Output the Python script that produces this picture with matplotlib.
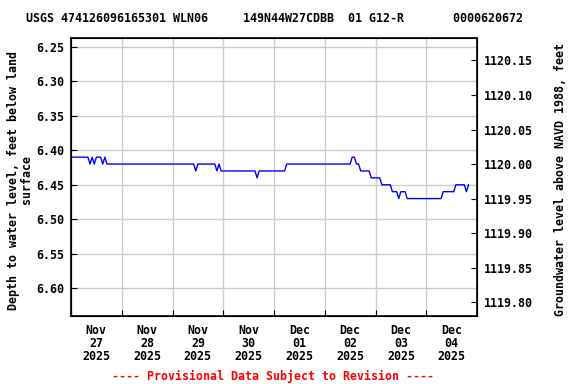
import numpy as np
import matplotlib.pyplot as plt

# water level record, vertices (hours after Nov 27 00:00)
start = np.datetime64('2025-11-27T00:00')
hours = [0, 8, 9, 10, 11, 12, 14, 15, 16, 17,
         58, 59, 60, 68, 69, 70, 71,
         87, 88, 89, 101, 102,
         132, 133, 134, 135, 136, 137,
         141, 142, 146, 147, 151, 152, 154, 155, 156, 158, 159,
         175, 176, 181, 182, 186, 187, 188]
depth = [6.41, 6.41, 6.42, 6.41, 6.42, 6.41, 6.41, 6.42, 6.41, 6.42,
         6.42, 6.43, 6.42, 6.42, 6.43, 6.42, 6.43,
         6.43, 6.44, 6.43, 6.43, 6.42,
         6.42, 6.41, 6.41, 6.42, 6.42, 6.43,
         6.43, 6.44, 6.44, 6.45, 6.45, 6.46, 6.46, 6.47, 6.46, 6.46, 6.47,
         6.47, 6.46, 6.46, 6.45, 6.45, 6.46, 6.45]
datum = 1126.42  # land surface elevation, NAVD 1988

day_labels = ['Nov\n27\n2025', 'Nov\n28\n2025', 'Nov\n29\n2025', 'Nov\n30\n2025',
              'Dec\n01\n2025', 'Dec\n02\n2025', 'Dec\n03\n2025', 'Dec\n04\n2025']
depth_ticks = [6.25, 6.30, 6.35, 6.40, 6.45, 6.50, 6.55, 6.60]
elev_ticks = [1119.80, 1119.85, 1119.90, 1119.95, 1120.00, 1120.05, 1120.10, 1120.15]

title = 'USGS 474126096165301 WLN06     149N44W27CDBB  01 G12-R       0000620672'

plt.rcParams['font.family'] = 'DejaVu Sans Mono'
plt.rcParams['font.weight'] = 'bold'
plt.rcParams['font.size'] = 8.4

t = start + np.array(hours).astype('timedelta64[h]')
ylo, yhi = 6.64, 6.2375

fig = plt.figure(figsize=(5.76, 3.84), dpi=100)
ax = fig.add_axes([71/576, 1-316/384, 406/576, 278/384])
ax.plot(t, depth, color='blue', lw=1)

days = start + np.arange(9) * np.timedelta64(1, 'D')
ax.set_xlim(days[0], days[-1])
ax.set_xticks(days)
ax.set_xticklabels([''] * len(days))
ax.set_xticks(days[:-1] + np.timedelta64(12, 'h'), minor=True)
ax.set_xticklabels(day_labels, minor=True, linespacing=1.0)
ax.tick_params(axis='x', which='minor', length=0, pad=6)
ax.tick_params(axis='x', which='major', direction='in', length=4)

ax.set_ylim(ylo, yhi)
ax.set_yticks(depth_ticks)
ax.set_yticklabels(['%.2f' % v for v in depth_ticks])
ax.tick_params(axis='y', direction='in', length=4, pad=5)
ax.grid(True, color='#cccccc', lw=1)
ax.set_axisbelow(True)
for s in ax.spines.values():
    s.set_linewidth(1.2)

ax2 = ax.twinx()
ax2.set_ylim(datum - ylo, datum - yhi)
ax2.set_yticks(elev_ticks)
ax2.set_yticklabels(['%.2f' % v for v in elev_ticks])
ax2.tick_params(axis='y', direction='in', length=4, pad=5)

fig.text(274/576, 1-19/384, title, ha='center', va='center')
fig.text(20/576, 1-180/384, 'Depth to water level, feet below land\nsurface',
         rotation=90, ha='center', va='center', multialignment='center', linespacing=1.0)
fig.text(560/576, 1-180/384, 'Groundwater level above NAVD 1988, feet',
         rotation=90, ha='center', va='center')
fig.text(273/576, 1-376/384, '---- Provisional Data Subject to Revision ----',
         ha='center', va='center', color='red')

fig.savefig('out.png', dpi=100)
